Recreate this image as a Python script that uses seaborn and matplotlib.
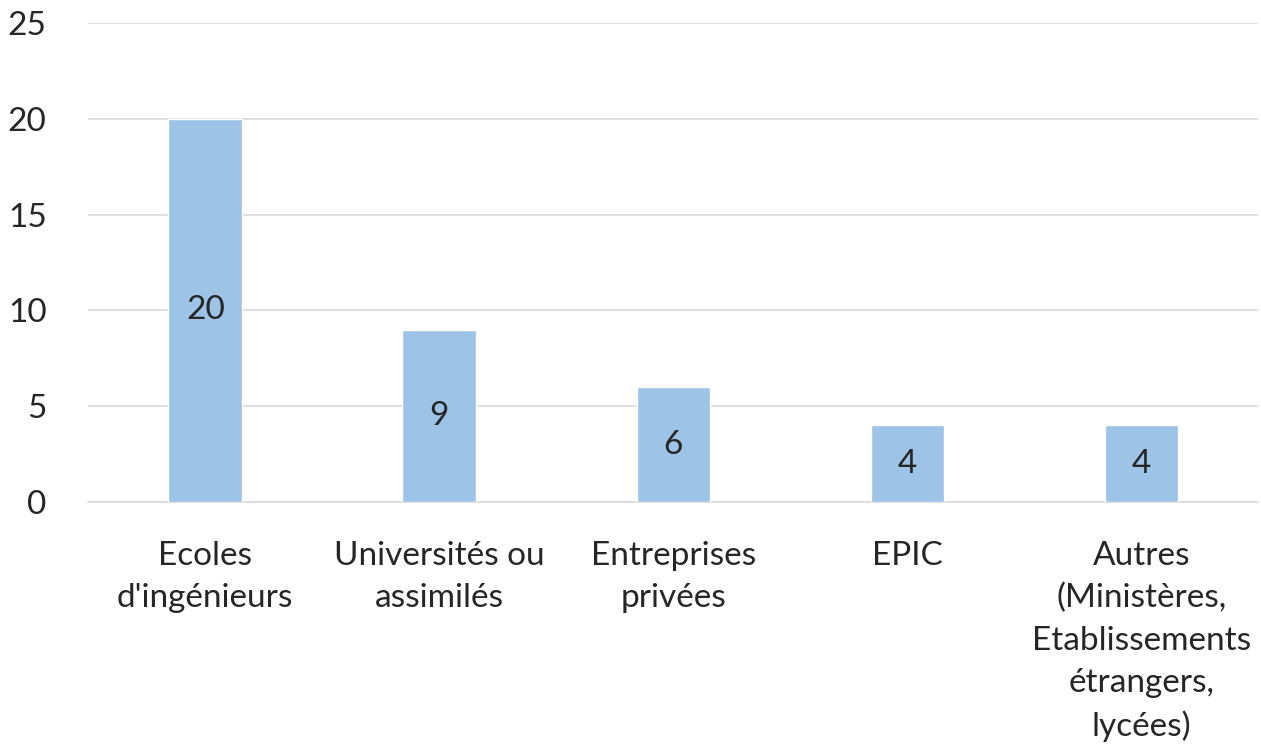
import matplotlib
matplotlib.use("Agg")
import matplotlib.pyplot as plt
import seaborn as sns
import pandas as pd

categories = ["Ecoles\nd'ingénieurs", "Universités ou\nassimilés", "Entreprises\nprivées", "EPIC",
              "Autres\n(Ministères,\nEtablissements\nétrangers,\nlycées)"]
values = [20, 9, 6, 4, 4]
yticks = [0, 5, 10, 15, 20, 25]

sns.set_theme(style="white")
plt.rcParams['font.family'] = ['Lato', 'DejaVu Sans']

df = pd.DataFrame({"cat": categories, "val": values})
fig = plt.figure(figsize=(12.61, 7.52), dpi=100)
ax = fig.add_axes([0.070, 0.3324, 0.928, 0.637])
sns.barplot(data=df, x="cat", y="val", color="#9DC3E6", saturation=1, width=0.315, ax=ax, zorder=3)
ax.set_xlim(-0.5, 4.5)
ax.set_ylim(0, 25)
ax.set_yticks(yticks)
ax.yaxis.grid(True, color="#D9D9D9", linewidth=1.2, zorder=0)
ax.set_axisbelow(True)
for s in ["top", "right", "left"]:
    ax.spines[s].set_visible(False)
ax.spines["bottom"].set_color("#D9D9D9")
ax.spines["bottom"].set_linewidth(1.2)
ax.set_xlabel("")
ax.set_ylabel("")
ax.tick_params(axis="y", length=0, pad=30, labelsize=24, labelcolor="#262626")
ax.tick_params(axis="x", length=0, pad=28, labelsize=24, labelcolor="#262626")
for lab in ax.get_xticklabels():
    lab.set_linespacing(1.5)
for c in ax.containers:
    ax.bar_label(c, label_type="center", fontsize=24, color="#262626")
fig.savefig("out.png", dpi=100)
